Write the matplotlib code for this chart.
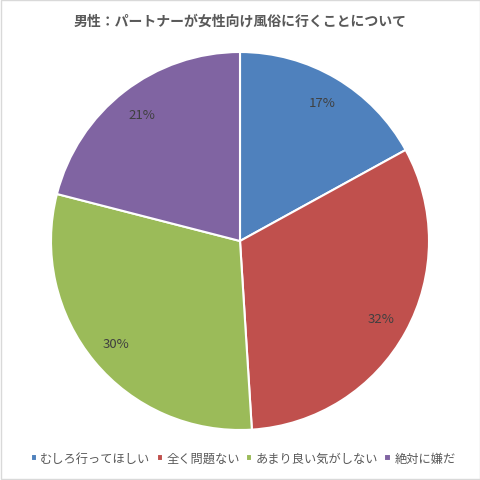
import matplotlib.pyplot as plt
from matplotlib.patches import Rectangle

plt.rcParams['font.family'] = ['Noto Sans CJK JP', 'DejaVu Sans']

labels = ["むしろ行ってほしい", "全く問題ない", "あまり良い気がしない", "絶対に嫌だ"]
values = [17, 32, 30, 21]
colors = ["#4F81BD", "#C0504D", "#9BBB59", "#8064A2"]
title = "男性：パートナーが女性向け風俗に行くことについて"

W = 481
fig = plt.figure(figsize=(4.81, 4.81), dpi=100)
fig.patches.append(Rectangle((0.002, 0.002), 0.996, 0.996, transform=fig.transFigure,
                             fill=False, edgecolor="#D9D9D9", linewidth=1))

cx, cy, r = 240, 242, 189
ax = fig.add_axes([(cx - r) / W, (W - cy - r) / W, 2 * r / W, 2 * r / W])
wedges, texts, autotexts = ax.pie(values, colors=colors, startangle=90, counterclock=False,
                                  autopct='%d%%', pctdistance=0.85, radius=1,
                                  wedgeprops=dict(edgecolor="white", linewidth=1.5),
                                  textprops=dict(color="#404040", fontsize=9.5))
ax.set_xlim(-1, 1)
ax.set_ylim(-1, 1)
ax.set_aspect('equal')
ax.axis('off')

fig.text(0.5, 1 - 22 / W, title, ha='center', va='center', fontsize=10,
         fontweight='bold', color="#595959")

leg = fig.legend(wedges, labels, loc='center', bbox_to_anchor=(243 / W, 1 - 459 / W), ncol=4,
                 frameon=False, fontsize=8.8, handlelength=0.5, handleheight=0.5,
                 handletextpad=0.3, columnspacing=0.5, labelcolor="#595959")

fig.savefig("out.png", dpi=100)
